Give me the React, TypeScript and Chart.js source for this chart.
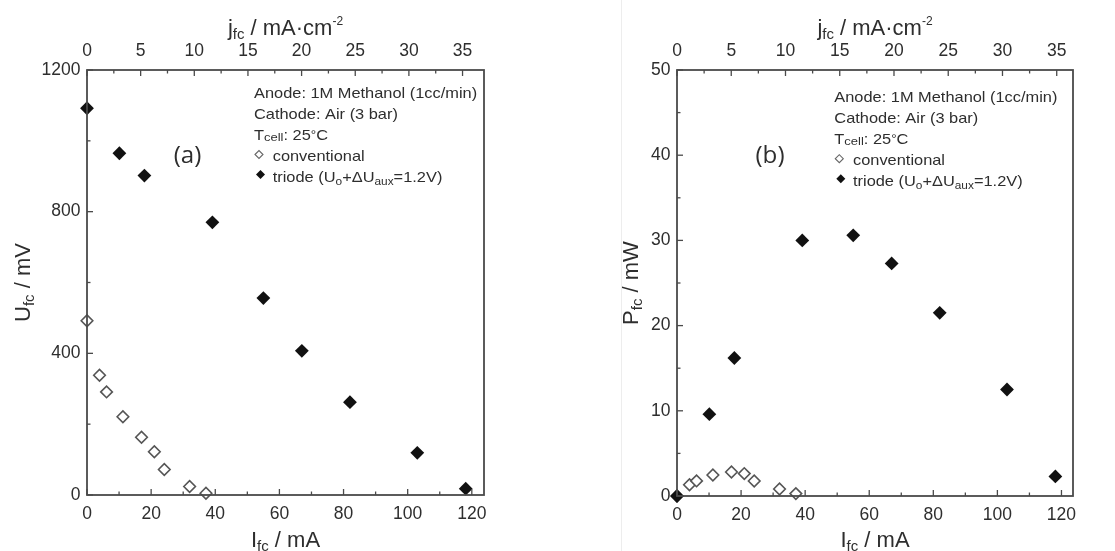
import React, { useEffect, useRef } from "react";
import { Chart, registerables } from "chart.js";

Chart.register(...registerables);

// ---- data ----
const convI = [0, 3.9, 6.1, 11.2, 17.0, 21.0, 24.1, 32.0, 37.1];
const convU = [492, 338, 291, 221, 163, 122, 72, 24, 5];
const convP = [0, 1.32, 1.77, 2.47, 2.82, 2.63, 1.76, 0.82, 0.28];
const triI = [0, 10.1, 17.9, 39.1, 55.0, 67.0, 82.0, 103.0, 118.1];
const triU = [1092, 965, 902, 770, 556, 407, 262, 119, 18];
const triP = [0, 9.6, 16.2, 30.0, 30.6, 27.3, 21.5, 12.5, 2.3];

// ---- ticks ----
const iTicks = [0, 20, 40, 60, 80, 100, 120];
const iMinor = [10, 30, 50, 70, 90, 110];
const jTicks = [0, 5, 10, 15, 20, 25, 30, 35];
const jMinor = [2.5, 7.5, 12.5, 17.5, 22.5, 27.5, 32.5];
const uTicks = [0, 400, 800, 1200];
const uMinor = [200, 600, 1000];
const pTicks = [0, 10, 20, 30, 40, 50];
const pMinor = [5, 15, 25, 35, 45];

const legendLines = [
  "Anode: 1M Methanol (1cc/min)",
  "Cathode: Air (3 bar)",
];

const H = 551;
const FONT = "'Liberation Sans', Arial, sans-serif";
const TEXT = "#2e2e2e";
const LINE = "#4a4a4a";

type Seg = { t: string; size: number; dy?: number };

function drawSegs(
  ctx: CanvasRenderingContext2D,
  segs: Seg[],
  x: number,
  y: number,
  align: "left" | "center",
  sx = 1,
  family = FONT
) {
  ctx.save();
  ctx.translate(x, y);
  ctx.scale(sx, 1);
  ctx.textAlign = "left";
  ctx.textBaseline = "alphabetic";
  ctx.fillStyle = TEXT;
  let total = 0;
  const widths = segs.map((s) => {
    ctx.font = `${s.size}px ${family}`;
    const w = ctx.measureText(s.t).width;
    total += w;
    return w;
  });
  let cx = align === "center" ? -total / 2 : 0;
  segs.forEach((s, i) => {
    ctx.font = `${s.size}px ${family}`;
    ctx.fillText(s.t, cx, s.dy || 0);
    cx += widths[i];
  });
  ctx.restore();
}

function diamond(ctx: CanvasRenderingContext2D, x: number, y: number, r: number, filled: boolean) {
  ctx.save();
  ctx.beginPath();
  ctx.moveTo(x - r, y);
  ctx.lineTo(x, y - r);
  ctx.lineTo(x + r, y);
  ctx.lineTo(x, y + r);
  ctx.closePath();
  if (filled) {
    ctx.fillStyle = "#111";
    ctx.fill();
  } else {
    ctx.fillStyle = "#fff";
    ctx.fill();
    ctx.strokeStyle = "#666";
    ctx.lineWidth = 1.1;
    ctx.stroke();
  }
  ctx.restore();
}

type PanelCfg = {
  left: number;
  width: number;
  area: { l: number; r: number; t: number; b: number };
  iMax: number;
  jMax: number;
  yMax: number;
  yTicks: number[];
  yMinor: number[];
  conv: number[];
  tri: number[];
  yLetter: string;
  yUnit: string;
  tag: string;
  tagX: number;
  legendX: number;
  legendY: number;
  leftTitleX: number;
};

const panelA: PanelCfg = {
  left: 0,
  width: 555,
  area: { l: 87, r: 484, t: 70, b: 495 },
  iMax: 123.8,
  jMax: 37.0,
  yMax: 1200,
  yTicks: uTicks,
  yMinor: uMinor,
  conv: convU,
  tri: triU,
  yLetter: "U",
  yUnit: " / mV",
  tag: "(a)",
  tagX: 187.5,
  legendX: 254,
  legendY: 97.5,
  leftTitleX: 30,
};

const panelB: PanelCfg = {
  left: 555,
  width: 560,
  area: { l: 122, r: 518, t: 70, b: 496 },
  iMax: 123.6,
  jMax: 36.5,
  yMax: 50,
  yTicks: pTicks,
  yMinor: pMinor,
  conv: convP,
  tri: triP,
  yLetter: "P",
  yUnit: " / mW",
  tag: "(b)",
  tagX: 215,
  legendX: 279.3,
  legendY: 101.7,
  leftTitleX: 83,
};

function Panel({ cfg }: { cfg: PanelCfg }) {
  const ref = useRef<HTMLCanvasElement>(null);
  useEffect(() => {
    const a = cfg.area;
    const W = cfg.width;
    const tickFont = { family: FONT, size: 17.5 };
    const plain = (v: any) => String(v);

    const decor = {
      id: "decor",
      afterDraw(chart: any) {
        const ctx: CanvasRenderingContext2D = chart.ctx;
        const ca = chart.chartArea;
        const sx = chart.scales.x;
        const sx2 = chart.scales.x2;
        const sy = chart.scales.y;
        ctx.save();
        ctx.strokeStyle = LINE;
        ctx.lineWidth = 1.3;
        const major = 6;
        const minor = 3.5;
        const vt = (px: number, y0: number, len: number) => {
          ctx.beginPath();
          ctx.moveTo(px, y0);
          ctx.lineTo(px, y0 + len);
          ctx.stroke();
        };
        const ht = (py: number, len: number) => {
          ctx.beginPath();
          ctx.moveTo(ca.left, py);
          ctx.lineTo(ca.left + len, py);
          ctx.stroke();
        };
        iTicks.forEach((v) => vt(sx.getPixelForValue(v), ca.bottom, -major));
        iMinor.forEach((v) => vt(sx.getPixelForValue(v), ca.bottom, -minor));
        jTicks.forEach((v) => vt(sx2.getPixelForValue(v), ca.top, major));
        jMinor.forEach((v) => vt(sx2.getPixelForValue(v), ca.top, minor));
        cfg.yTicks.forEach((v) => ht(sy.getPixelForValue(v), major));
        cfg.yMinor.forEach((v) => ht(sy.getPixelForValue(v), minor));
        ctx.lineWidth = 1.8;
        ctx.strokeRect(ca.left, ca.top, ca.right - ca.left, ca.bottom - ca.top);
        ctx.restore();

        const cx = (ca.left + ca.right) / 2;
        const cy = (ca.top + ca.bottom) / 2;
        // bottom title
        drawSegs(ctx, [
          { t: "I", size: 22 },
          { t: "fc", size: 15, dy: 4 },
          { t: " / mA", size: 22 },
        ], cx, 547, "center");
        // top title
        drawSegs(ctx, [
          { t: "j", size: 22 },
          { t: "fc", size: 15, dy: 4 },
          { t: " / mA·cm", size: 22 },
          { t: "-2", size: 12, dy: -10 },
        ], cx, 35, "center");
        // left title
        ctx.save();
        ctx.translate(cfg.leftTitleX, cy);
        ctx.rotate(-Math.PI / 2);
        drawSegs(ctx, [
          { t: cfg.yLetter, size: 22 },
          { t: "fc", size: 15, dy: 4 },
          { t: cfg.yUnit, size: 22 },
        ], 0, 0, "center");
        ctx.restore();

        // panel tag
        drawSegs(ctx, [{ t: cfg.tag, size: 23 }], cfg.tagX, 163, "center", 1.05, "'Open Sans', sans-serif");

        // annotation block
        const lx = cfg.legendX;
        const ly = cfg.legendY;
        const gap = 21;
        const fs = 14.5;
        const st = 1.13;
        drawSegs(ctx, [{ t: legendLines[0], size: fs }], lx, ly, "left", st);
        drawSegs(ctx, [{ t: legendLines[1], size: fs }], lx, ly + gap, "left", st);
        drawSegs(ctx, [
          { t: "T", size: fs },
          { t: "cell", size: 11.5, dy: 1.5 },
          { t: ": 25", size: fs },
          { t: "°", size: 12, dy: -1 },
          { t: "C", size: fs },
        ], lx, ly + 2 * gap, "left", st);
        diamond(ctx, lx + 5, ly + 3 * gap - 6, 4, false);
        drawSegs(ctx, [{ t: "conventional", size: fs }], lx + 18.7, ly + 3 * gap, "left", st);
        diamond(ctx, lx + 6.5, ly + 4 * gap - 7, 4.5, true);
        drawSegs(ctx, [
          { t: "triode (U", size: fs },
          { t: "o", size: 10.5, dy: 3 },
          { t: "+ΔU", size: fs },
          { t: "aux", size: 10.5, dy: 3 },
          { t: "=1.2V)", size: fs },
        ], lx + 18.7, ly + 4 * gap, "left", st);
      },
    };

    const axisBase = {
      type: "linear" as const,
      grid: { display: false, drawTicks: false },
      border: { display: false },
    };

    const chart = new Chart(ref.current!, {
      type: "scatter",
      data: {
        datasets: [
          {
            label: "triode (Uo+ΔUaux=1.2V)",
            data: triI.map((x, i) => ({ x, y: cfg.tri[i] })),
            pointStyle: "rectRot",
            pointRadius: 6.9,
            pointBackgroundColor: "#111111",
            pointBorderColor: "#111111",
            pointBorderWidth: 0,
            clip: false as any,
            xAxisID: "x",
            yAxisID: "y",
          },
          {
            label: "conventional",
            data: convI.map((x, i) => ({ x, y: cfg.conv[i] })),
            pointStyle: "rectRot",
            pointRadius: 5.8,
            pointBackgroundColor: "#ffffff",
            pointBorderColor: "#555555",
            pointBorderWidth: 1.6,
            clip: false as any,
            xAxisID: "x",
            yAxisID: "y",
          },
        ],
      },
      options: {
        responsive: false,
        animation: false,
        events: [],
        layout: { padding: { left: 0, top: 0, right: W - a.r, bottom: 0 } },
        plugins: { legend: { display: false }, tooltip: { enabled: false } },
        scales: {
          x: {
            ...axisBase,
            position: "bottom",
            min: 0,
            max: cfg.iMax,
            ticks: { font: tickFont, color: TEXT, padding: 9, maxRotation: 0, autoSkip: false, callback: plain },
            afterBuildTicks: (s: any) => {
              s.ticks = iTicks.map((v) => ({ value: v }));
            },
            afterFit: (s: any) => {
              s.height = H - a.b;
            },
          },
          x2: {
            ...axisBase,
            position: "top",
            min: 0,
            max: cfg.jMax,
            ticks: { font: tickFont, color: TEXT, padding: 8, maxRotation: 0, autoSkip: false, callback: plain },
            afterBuildTicks: (s: any) => {
              s.ticks = jTicks.map((v) => ({ value: v }));
            },
            afterFit: (s: any) => {
              s.height = a.t;
            },
          },
          y: {
            ...axisBase,
            position: "left",
            min: 0,
            max: cfg.yMax,
            ticks: { font: tickFont, color: TEXT, padding: 6.5, autoSkip: false, callback: plain },
            afterBuildTicks: (s: any) => {
              s.ticks = cfg.yTicks.map((v) => ({ value: v }));
            },
            afterFit: (s: any) => {
              s.width = a.l;
            },
          },
        },
      } as any,
      plugins: [decor],
    });
    return () => chart.destroy();
  }, [cfg]);
  return (
    <canvas
      ref={ref}
      width={cfg.width}
      height={H}
      style={{ position: "absolute", left: cfg.left, top: 0, width: cfg.width, height: H }}
    />
  );
}

export default function App() {
  return (
    <div
      style={{
        position: "fixed",
        left: 0,
        top: 0,
        width: 1115,
        height: 551,
        background: "#ffffff",
        overflow: "hidden",
      }}
    >
      <div style={{ position: "absolute", left: 621, top: 0, width: 1, height: 551, background: "#ededed" }} />
      <Panel cfg={panelA} />
      <Panel cfg={panelB} />
    </div>
  );
}
